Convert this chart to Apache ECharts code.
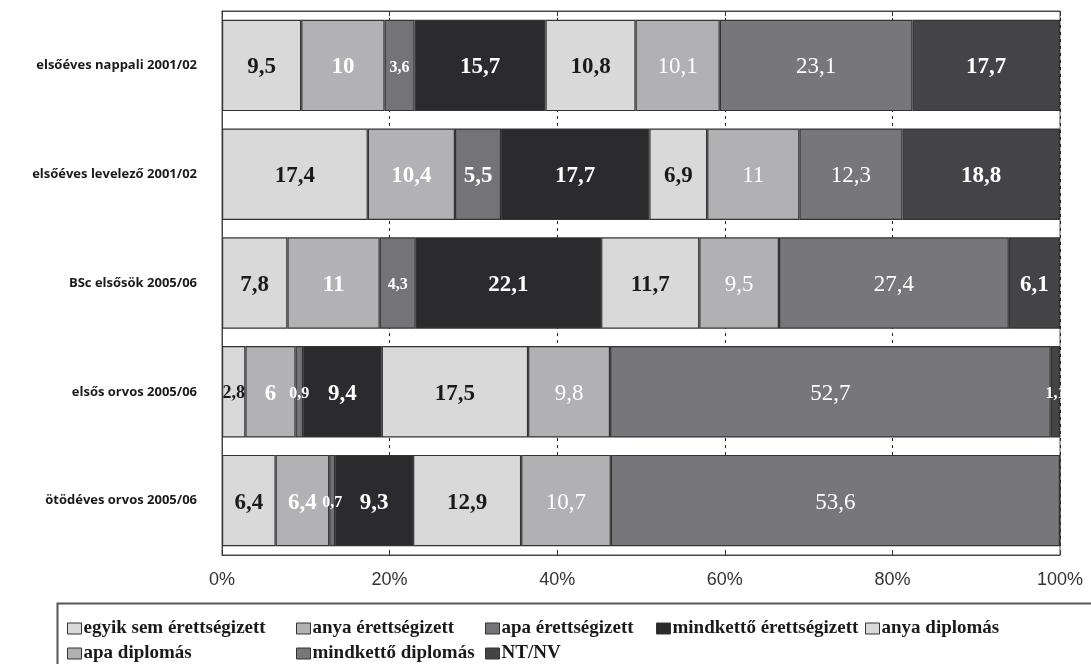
<!DOCTYPE html>
<html>
<head>
<meta charset="utf-8">
<script src="https://cdn.jsdelivr.net/npm/echarts@6/dist/echarts.min.js"></script>
<style>
  html, body { margin: 0; padding: 0; background: #fff; }
  #chart { width: 1091px; height: 664px; }
</style>
</head>
<body>
<div id="chart"></div>
<script>
// Row labels (top to bottom)
const categories = [
  'elsőéves nappali 2001/02',
  'elsőéves levelező 2001/02',
  'BSc elsősök 2005/06',
  'elsős orvos 2005/06',
  'ötödéves orvos 2005/06'
];

// Parents' education level, percentage per row
const seriesNames = [
  'egyik sem érettségizett',
  'anya érettségizett',
  'apa érettségizett',
  'mindkettő érettségizett',
  'anya diplomás',
  'apa diplomás',
  'mindkettő diplomás',
  'NT/NV'
];
const egyikSem      = [9.5, 17.4, 7.8, 2.8, 6.4];
const anyaErett     = [10, 10.4, 11, 6, 6.4];
const apaErett      = [3.6, 5.5, 4.3, 0.9, 0.7];
const mindketErett  = [15.7, 17.7, 22.1, 9.4, 9.3];
const anyaDiplomas  = [10.8, 6.9, 11.7, 17.5, 12.9];
const apaDiplomas   = [10.1, 11, 9.5, 9.8, 10.7];
const mindketDipl   = [23.1, 12.3, 27.4, 52.7, 53.6];
const ntNv          = [17.7, 18.8, 6.1, 1.1, 0];

const xTicks = [0, 20, 40, 60, 80, 100];

const values = [egyikSem, anyaErett, apaErett, mindketErett, anyaDiplomas, apaDiplomas, mindketDipl, ntNv];

const colors = ['#d9d9d9', '#b2b2b4', '#747478', '#2b2a2c', '#d9d9d9', '#b1b1b3', '#77777b', '#444446'];
const labelColors = ['#1a1a1a', '#ffffff', '#ffffff', '#ffffff', '#1a1a1a', '#ffffff', '#ffffff', '#ffffff'];
const labelWeights = ['bold', 'bold', 'bold', 'bold', 'bold', 'normal', 'normal', 'bold'];

// Row totals so each bar fills 100%
const rowTotals = categories.map((_, r) => values.reduce((s, arr) => s + arr[r], 0));

const fmt = v => String(v).replace('.', ',');

const series = seriesNames.map((name, si) => ({
  name: name,
  type: 'bar',
  stack: 'total',
  barCategoryGap: '16%',
  itemStyle: { color: colors[si], borderColor: '#333', borderWidth: 1.2 },
  data: values[si].map((v, r) => ({
    value: v / rowTotals[r] * 100,
    label: {
      show: v > 0,
      formatter: () => fmt(v),
      fontSize: v < 5 ? (si === 0 ? 18 : 16) : 23,
      color: (v < 5 && si === 0) ? '#1a1a1a' : labelColors[si],
      fontWeight: labelWeights[si],
      fontFamily: 'Liberation Serif, Times New Roman, serif',
      offset: [0, 2]
    }
  })),
  label: { position: 'inside' },
  emphasis: { disabled: true }
}));

// Legend placement: two rows in a boxed frame
const legendPos = [
  [62, 614], [291, 614], [480, 614], [651, 614], [860, 614],
  [62, 639], [291, 639], [480, 639]
];
const legends = seriesNames.map((name, i) => ({
  data: [name],
  left: legendPos[i][0],
  top: legendPos[i][1],
  icon: 'rect',
  itemWidth: 14,
  itemHeight: 11,
  itemGap: 4,
  selectedMode: false,
  itemStyle: { borderColor: '#333', borderWidth: 1 },
  textStyle: {
    fontFamily: 'Liberation Serif, Times New Roman, serif',
    fontWeight: 'bold',
    fontSize: 19,
    color: '#1a1a1a',
    padding: [0, 0, 0, -3]
  }
}));

const chart = echarts.init(document.getElementById('chart'), null, { renderer: 'canvas' });
chart.setOption({
  animation: false,
  backgroundColor: '#ffffff',
  grid: {
    left: 222, right: 31, top: 11, bottom: 109,
    show: true, borderColor: '#555', borderWidth: 1, backgroundColor: 'transparent'
  },
  legend: legends,
  graphic: [{
    type: 'rect',
    left: 55, top: 601,
    shape: { width: 1100, height: 100 },
    style: { fill: 'none', stroke: '#555', lineWidth: 2 },
    silent: true
  }],
  xAxis: [{
    type: 'value',
    min: xTicks[0], max: xTicks[xTicks.length - 1], interval: 20,
    axisLine: { show: true, lineStyle: { color: '#444' } },
    axisTick: { show: true, inside: true, length: 5, lineStyle: { color: '#333' } },
    splitLine: { show: true, lineStyle: { color: '#222', type: [3, 4], width: 1 } },
    axisLabel: {
      formatter: v => v + '%',
      fontFamily: 'Liberation Sans, Arial, sans-serif',
      fontSize: 18, color: '#333', margin: 16
    }
  }, {
    type: 'value', position: 'top',
    min: xTicks[0], max: xTicks[xTicks.length - 1], interval: 20,
    axisLine: { show: true, lineStyle: { color: '#444' } },
    axisTick: { show: true, inside: true, length: 5, lineStyle: { color: '#333' } },
    splitLine: { show: false },
    axisLabel: { show: false }
  }],
  yAxis: {
    type: 'category',
    inverse: true,
    data: categories,
    axisLine: { show: true, lineStyle: { color: '#444' } },
    axisTick: { show: false },
    axisLabel: {
      fontFamily: 'Open Sans, sans-serif',
      fontWeight: 'bold',
      fontSize: 13,
      color: '#1a1a1a',
      margin: 25
    }
  },
  series: series
});
</script>
</body>
</html>
